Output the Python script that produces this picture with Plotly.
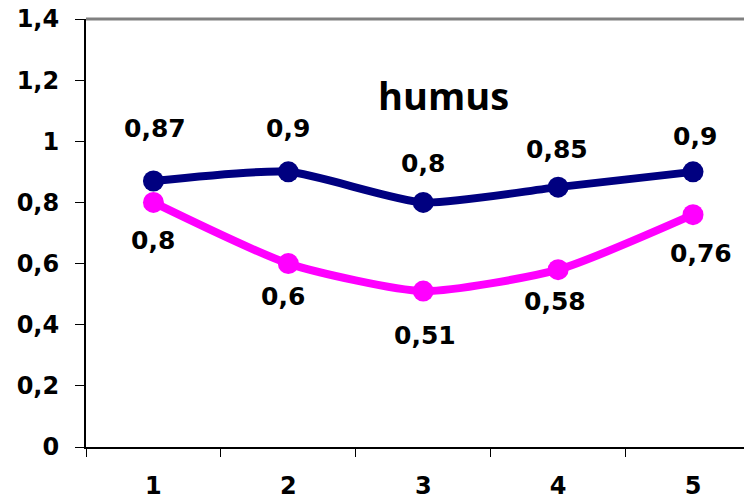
import plotly.graph_objects as go

categories = ["1", "2", "3", "4", "5"]
series_top = [0.87, 0.9, 0.8, 0.85, 0.9]
series_bottom = [0.8, 0.6, 0.51, 0.58, 0.76]
labels_top = ["0,87", "0,9", "0,8", "0,85", "0,9"]
labels_bottom = ["0,8", "0,6", "0,51", "0,58", "0,76"]
yticks = [0, 0.2, 0.4, 0.6, 0.8, 1, 1.2, 1.4]
ytick_text = ["0", "0,2", "0,4", "0,6", "0,8", "1", "1,2", "1,4"]
title_text = "humus"

# label pixel offsets (layout only)
top_dy = [53, 43, 39, 38, 35]
top_dx = [2, 0, 0, -1, 2]
bot_dy = [-38, -33, -44, -32, -39]
bot_dx = [0, -5, 2, -3, 8]

NAVY = "#000080"
MAGENTA = "#FF00FF"
FONT = "DejaVu Sans, Liberation Sans, Arial, sans-serif"

fig = go.Figure()
fig.add_trace(go.Scatter(
    x=categories, y=series_top, mode="lines+markers",
    line=dict(color=NAVY, width=8, shape="spline", smoothing=0.6),
    marker=dict(color=NAVY, size=21), showlegend=False, cliponaxis=False))
fig.add_trace(go.Scatter(
    x=categories, y=series_bottom, mode="lines+markers",
    line=dict(color=MAGENTA, width=8, shape="spline", smoothing=0.6),
    marker=dict(color=MAGENTA, size=21), showlegend=False, cliponaxis=False))

annos = []
for i, (v, t) in enumerate(zip(series_top, labels_top)):
    annos.append(dict(x=i, y=v, text="<b>%s</b>" % t, showarrow=False,
                      yshift=top_dy[i], xshift=top_dx[i],
                      font=dict(family=FONT, size=25, color="black")))
for i, (v, t) in enumerate(zip(series_bottom, labels_bottom)):
    annos.append(dict(x=i, y=v, text="<b>%s</b>" % t, showarrow=False,
                      yshift=bot_dy[i], xshift=bot_dx[i],
                      font=dict(family=FONT, size=25, color="black")))
annos.append(dict(xref="paper", yref="paper", x=0.543, y=0.888,
                  text="<b>%s</b>" % title_text, showarrow=False,
                  font=dict(family="Open Sans, sans-serif", size=38, color="black")))

fig.update_layout(
    width=744, height=499,
    margin=dict(l=86, r=0, t=19, b=52),
    paper_bgcolor="white", plot_bgcolor="white",
    annotations=annos,
    shapes=[dict(type="line", xref="paper", yref="paper", x0=0, x1=1, y0=1, y1=1,
                 line=dict(color="#808080", width=3))],
)
fig.update_xaxes(
    type="category", range=[-0.5, 4.378],
    tickvals=categories, ticktext=["<b>%s</b>" % c for c in categories],
    showline=True, linecolor="black", linewidth=2,
    ticks="outside", ticklen=8, tickcolor="black", tickwidth=1,
    tickson="boundaries", showgrid=False, zeroline=False,
    tickfont=dict(family=FONT, size=24, color="black"),
    ticklabelstandoff=16,
)
fig.update_yaxes(
    range=[0, 1.4], tickvals=yticks, ticktext=["<b>%s</b>" % t for t in ytick_text],
    showline=True, linecolor="black", linewidth=2,
    ticks="outside", ticklen=9, tickcolor="black", tickwidth=1,
    showgrid=False, zeroline=False,
    tickfont=dict(family=FONT, size=24, color="black"),
    ticklabelstandoff=11,
)

fig.write_html("out.html")
